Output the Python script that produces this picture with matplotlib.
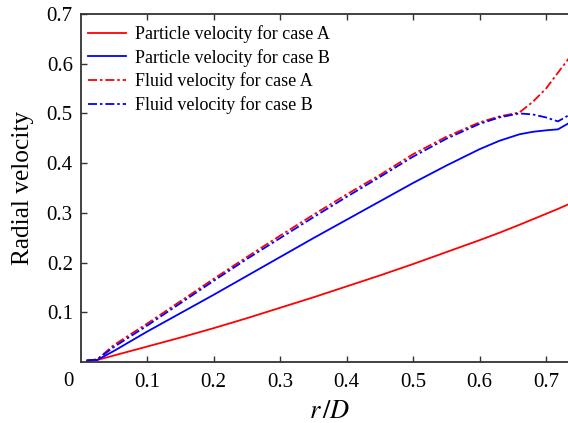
import matplotlib
matplotlib.use('Agg')
import matplotlib.pyplot as plt

plt.rcParams['font.family'] = ['Liberation Serif', 'DejaVu Serif']
plt.rcParams['mathtext.fontset'] = 'stix'

# r/D positions shared by all curves
r_over_d = [0.010, 0.025, 0.05, 0.10, 0.15, 0.20, 0.25, 0.30, 0.35, 0.40,
            0.45, 0.50, 0.55, 0.60, 0.63, 0.66, 0.68, 0.70, 0.718, 0.735]

particle_a = [0.003, 0.004, 0.013, 0.031, 0.049, 0.068, 0.088, 0.109, 0.130, 0.152,
              0.174, 0.197, 0.221, 0.245, 0.260, 0.276, 0.287, 0.298, 0.308, 0.318]
particle_b = [0.003, 0.004, 0.022, 0.061, 0.098, 0.135, 0.173, 0.211, 0.249, 0.286,
              0.323, 0.360, 0.395, 0.428, 0.445, 0.458, 0.463, 0.466, 0.468, 0.481]
fluid_a = [0.003, 0.005, 0.034, 0.077, 0.122, 0.167, 0.211, 0.254, 0.296, 0.337,
           0.376, 0.418, 0.453, 0.482, 0.494, 0.502, 0.523, 0.550, 0.582, 0.612]
fluid_b = [0.003, 0.005, 0.030, 0.073, 0.118, 0.163, 0.207, 0.249, 0.291, 0.332,
           0.372, 0.413, 0.449, 0.479, 0.492, 0.500, 0.498, 0.492, 0.484, 0.497]

labels = ['Particle velocity for case A', 'Particle velocity for case B',
          'Fluid velocity for case A', 'Fluid velocity for case B']

xticks = [0.1, 0.2, 0.3, 0.4, 0.5, 0.6, 0.7]
yticks = [0.1, 0.2, 0.3, 0.4, 0.5, 0.6, 0.7]

fig = plt.figure(figsize=(5.68, 4.23), dpi=100)
# axes runs a little past the right edge of the picture, like the original crop
ax = fig.add_axes([80.5 / 568, 61 / 423, 498.75 / 568, 348 / 423])

red = '#ff0000'
blue = '#0000ff'
dashdot = (0, (5, 1.6, 1.4, 1.6))
lw = 1.3

ax.plot(r_over_d, particle_a, color=red, lw=lw, label=labels[0])
ax.plot(r_over_d, particle_b, color=blue, lw=lw, label=labels[1])
ax.plot(r_over_d, fluid_a, color=red, lw=lw, linestyle=dashdot, label=labels[2])
ax.plot(r_over_d, fluid_b, color=blue, lw=lw, linestyle=dashdot, label=labels[3])

ax.set_xlim(0, 0.75)
ax.set_ylim(0, 0.7)
ax.set_xticks(xticks)
ax.set_yticks(yticks)
ax.set_xticklabels(['%.1f' % t for t in xticks])
ax.set_yticklabels(['%.1f' % t for t in yticks])
ax.tick_params(direction='in', length=4, width=1, labelsize=15,
               top=True, right=True, colors='#333333', labelcolor='black')
ax.tick_params(axis='x', pad=8)
ax.tick_params(axis='y', pad=5.5)
for s in ax.spines.values():
    s.set_linewidth(1.3)
    s.set_color('#333333')

# shared origin label
ax.text(-0.0188, -0.039, '0', transform=ax.transData, fontsize=15,
        ha='center', va='center', clip_on=False)

ax.set_xlabel(r'$r\,/D$', fontsize=19)
ax.xaxis.set_label_coords(0.5, -0.112)
ax.set_ylabel('Radial velocity', fontsize=18.3)
ax.yaxis.set_label_coords(-0.093, 0.5)

leg = ax.legend(loc='upper left', bbox_to_anchor=(0.016, 0.968), frameon=False,
                fontsize=13, handlelength=2.1, handletextpad=0.45,
                labelspacing=0.32, borderaxespad=0, borderpad=0)

fig.savefig('out.png', dpi=100)
